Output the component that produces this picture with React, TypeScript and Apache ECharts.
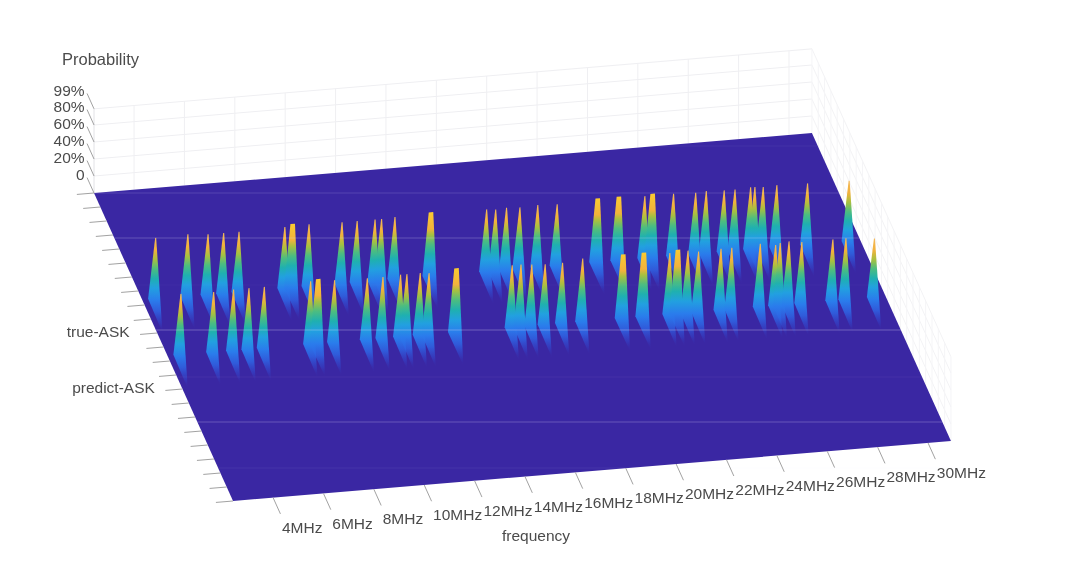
import React, { useEffect, useRef } from "react";
import * as echarts from "echarts";

// Frequencies (MHz) and peak probabilities (%)
const trueFreq = [2.6,3.88,4.68,5.3,5.91,7.73,8.04,8.69,10.0,10.6,11.31,11.57,12.1,13.53,15.74,16.1,16.53,17.06,17.77,18.54,20.15,20.99,22.02,22.33,23.16,24.04,24.46,25.17,25.6,26.22,26.39,26.72,27.26,28.48,30.13];
const trueProb = [95,96,94,94,94,95,98,96,95,95,95,95,96,98,96,95,96,95,96,95,98,98,96,98,96,95,96,95,95,96,96,95,96,95,94];
const predictFreq = [2.6,3.9,4.69,5.3,5.91,7.75,8.05,8.7,10.0,10.62,11.32,11.57,12.1,12.45,13.54,15.75,16.1,16.53,17.06,17.75,18.55,20.16,20.98,22.01,22.33,22.73,23.15,24.04,24.47,25.6,26.21,26.39,26.74,27.25,28.48,29.0,30.13];
const predictProb = [95,94,95,95,95,97,99,96,95,95,96,96,96,95,98,96,96,95,94,94,97,98,98,95,98,96,94,95,95,97,94,96,97,95,95,95,92];

const freqTicks = [4,6,8,10,12,14,16,18,20,22,24,26,28,30];
const freqLabels = freqTicks.map((f) => f + "MHz");
const probTicks = [0,20,40,60,80,99];
const probLabels = ["0","20%","40%","60%","80%","99%"];
const rowTicks = Array.from({ length: 23 }, (_, i) => i);
const rowLabels: [number, string][] = [[10, "true-ASK"], [14, "predict-ASK"]];
const sheenLines: [number, number][] = [[146,0.05],[193,0.16],[238,0.24],[285,0.03],[330,0.3],[377,0.06],[422,0.26],[468,0.07]];

const TRUE_ROW = 10, PREDICT_ROW = 14;
const F_MIN = 2.41, F_MAX = 30.91, ROW_MAX = 22, P_MAX = 99;

// oblique projection of the MATLAB view: (frequency, row, probability) to picture position
const O = [94, 193];
const EX = [25.19, -2.105];
const EY = [6.32, 14];
const EZ = 0.85;
const proj = (f: number, r: number, z: number): number[] => [
  O[0] + EX[0] * (f - F_MIN) + EY[0] * r,
  O[1] + EX[1] * (f - F_MIN) + EY[1] * r - EZ * z,
];

const spikeGradient = (wide: boolean) =>
  new echarts.graphic.LinearGradient(0, 0, 0, 1, [
    { offset: 0, color: wide ? "#fbcb30" : "#f4b858" },
    { offset: wide ? 0.17 : 0.13, color: "#f2b23c" },
    { offset: 0.23, color: "#a8c040" },
    { offset: 0.33, color: "#4cbd80" },
    { offset: 0.43, color: "#1fb0b0" },
    { offset: 0.53, color: "#22a0e0" },
    { offset: 0.66, color: "#2a7cec" },
    { offset: 0.78, color: "rgba(46,100,228,0.85)" },
    { offset: 0.9, color: "rgba(50,70,205,0.5)" },
    { offset: 1, color: "rgba(58,39,163,0.05)" },
  ]);

const spikeSeries = (freq: number[], prob: number[], row: number) => ({
  type: "custom",
  coordinateSystem: "cartesian2d",
  clip: false,
  silent: true,
  data: freq.map((f, i) => [f, row, prob[i]]),
  renderItem: (_: any, api: any) => {
    const f = api.value(0), r = api.value(1) as number, p = api.value(2);
    const wide = p >= 98;
    const top = wide ? 0.09 : 0.02;
    const side = wide ? 0.34 : 0.3;
    const pts = [
      proj(f - top, r - 1, p),
      proj(f + top, r - 1, p),
      proj(f + 0.02, r, 0),
      proj(f - side, r - 1, 24),
    ].map((q) => api.coord(q));
    return { type: "polygon", shape: { points: pts }, style: { fill: spikeGradient(wide) } };
  },
});

const lineItem = (api: any, a: number[], b: number[], stroke: string, lineWidth = 1, opacity = 1) => {
  const p = api.coord(a), q = api.coord(b);
  return {
    type: "line",
    shape: { x1: p[0], y1: p[1], x2: q[0], y2: q[1] },
    style: { stroke, lineWidth, opacity },
  };
};

const textItem = (api: any, pos: number[], text: string, size: number, align: string) => {
  const p = api.coord(pos);
  return {
    type: "text",
    x: p[0],
    y: p[1],
    style: { text, fontSize: size, fontFamily: "Liberation Sans", fill: "#4b4b4b", align, verticalAlign: "middle" },
  };
};

const single = (renderItem: any) => ({
  type: "custom",
  coordinateSystem: "cartesian2d",
  clip: false,
  silent: true,
  data: [[0, 0]],
  renderItem,
});

const WALL = "#efeff2";
const TICK = "#a2a2a2";

const wallSeries = single((_: any, api: any) => {
  const ch: any[] = [];
  probTicks.forEach((z) => {
    if (z === 0) return;
    ch.push(lineItem(api, proj(F_MIN, 0, z), proj(F_MAX, 0, z), WALL));
    ch.push(lineItem(api, proj(F_MAX, 0, z), proj(F_MAX, ROW_MAX, z), "#f3f3f5"));
  });
  freqTicks.forEach((f) => ch.push(lineItem(api, proj(f, 0, 0), proj(f, 0, P_MAX), WALL)));
  rowTicks.forEach((r) => ch.push(lineItem(api, proj(F_MAX, r, 0), proj(F_MAX, r, P_MAX), "#f5f5f7")));
  ch.push(lineItem(api, proj(F_MIN, 0, 0), proj(F_MIN, 0, P_MAX), "#e2e2e6"));
  return { type: "group", children: ch };
});

const planeSeries = single((_: any, api: any) => ({
  type: "polygon",
  shape: {
    points: [proj(F_MIN, 0, 0), proj(F_MAX, 0, 0), proj(F_MAX, ROW_MAX, 0), proj(F_MIN, ROW_MAX, 0)].map((q) => api.coord(q)),
  },
  style: { fill: "#3a27a3" },
}));

const sheenSeries = single((_: any, api: any) => {
  const backLeft = proj(F_MIN, 0, 0), backRight = proj(F_MAX, 0, 0), frontRight = proj(F_MAX, ROW_MAX, 0), frontLeft = proj(F_MIN, ROW_MAX, 0);
  const ch = sheenLines.map(([y, op]) => {
    const xl = y >= backLeft[1]
      ? backLeft[0] + ((frontLeft[0] - backLeft[0]) * (y - backLeft[1])) / (frontLeft[1] - backLeft[1])
      : backLeft[0] + ((backRight[0] - backLeft[0]) * (y - backLeft[1])) / (backRight[1] - backLeft[1]);
    const xr = backRight[0] + ((frontRight[0] - backRight[0]) * (y - backRight[1])) / (frontRight[1] - backRight[1]);
    return lineItem(api, [xl, y], [xr, y], "#e8e4ff", 1, op);
  });
  return { type: "group", children: ch };
});

const axisSeries = single((_: any, api: any) => {
  const ch: any[] = [];
  rowTicks.forEach((r) => {
    ch.push(lineItem(api, proj(F_MIN, r, 0), proj(F_MIN - 0.68, r, 0), TICK));
  });
  rowLabels.forEach(([r, t]) => {
    const e = proj(F_MIN - 0.68, r, 0);
    ch.push(textItem(api, [e[0] - 10.5, e[1] - 3.2], t, 15.5, "right"));
  });
  freqTicks.forEach((f, i) => {
    const e = proj(f, ROW_MAX + 1.16, 0);
    ch.push(lineItem(api, proj(f, ROW_MAX, 0), e, TICK));
    ch.push(textItem(api, [e[0] + 1.5, e[1] + 13.5], freqLabels[i], 15.5, "left"));
  });
  probTicks.forEach((z, i) => {
    const e = proj(F_MIN, -1.1, z);
    ch.push(lineItem(api, proj(F_MIN, 0, z), e, TICK));
    ch.push(textItem(api, [e[0] - 2.5, e[1] - 3], probLabels[i], 15.5, "right"));
  });
  ch.push(textItem(api, [62, 59], "Probability", 16.5, "left"));
  ch.push(textItem(api, [536, 535], "frequency", 15.5, "center"));
  return { type: "group", children: ch };
});

export default function App() {
  const ref = useRef<HTMLDivElement>(null);
  useEffect(() => {
    document.body.style.margin = "0";
    const chart = echarts.init(ref.current!, undefined, { renderer: "svg" });
    chart.setOption({
      animation: false,
      backgroundColor: "#ffffff",
      grid: { left: 0, right: 0, top: 0, bottom: 0 },
      xAxis: { type: "value", min: 0, max: 1080, show: false },
      yAxis: { type: "value", min: 0, max: 567, inverse: true, show: false },
      series: [
        wallSeries,
        planeSeries,
        spikeSeries(trueFreq, trueProb, TRUE_ROW),
        spikeSeries(predictFreq, predictProb, PREDICT_ROW),
        sheenSeries,
        axisSeries,
      ],
    });
    return () => chart.dispose();
  }, []);
  return <div ref={ref} style={{ width: 1080, height: 567, filter: "blur(0.7px)" }} />;
}
